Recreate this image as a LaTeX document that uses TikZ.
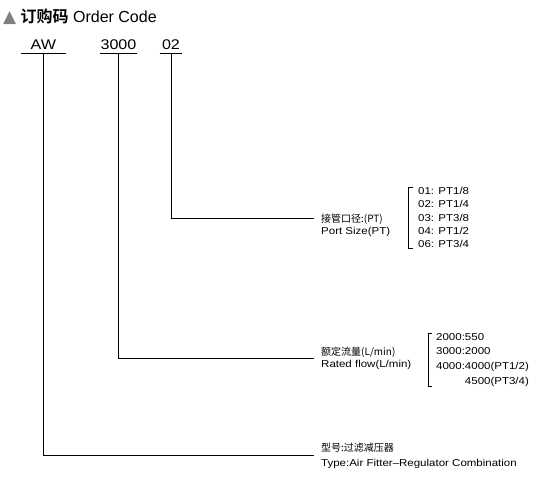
\documentclass[tikz,border=0pt]{standalone}
\usepackage{fontspec}
\setmainfont{Liberation Sans}
\newfontfamily\widefont[FakeStretch=1.15]{Liberation Sans}
\newfontfamily\cjk{Noto Sans CJK SC}[BoldFont={Noto Sans CJK SC Bold}]
\newfontfamily\symfont{DejaVu Sans}
\usetikzlibrary{calc,positioning}
\tikzset{
    order diagram/.style = {x=1pt, y=-1pt},
    code/.style     = {inner sep=0pt, anchor=base, text depth=4.5pt,
                       font=\widefont\fontsize{14}{16}\selectfont},
    codebar/.style  = {line width=0.8pt},
    leader/.style   = {line width=0.7pt},
    cnlabel/.style  = {inner sep=0pt, anchor=base west,
                       font=\cjk\fontsize{10}{12}\selectfont},
    enlabel/.style  = {inner sep=0pt, anchor=base west,
                       font=\widefont\fontsize{10}{12}\selectfont},
    options/.style  = {inner sep=0pt, anchor=north west, align=left},
    bracket/.style  = {line width=0.7pt}
}

\begin{document}
\begin{tikzpicture}[order diagram]
\useasboundingbox (0,0) rectangle (550,479);

% ================= Title =================
\node[inner sep=0pt, anchor=base west, text=gray,
      font=\symfont\fontsize{17}{18}\selectfont] (mark) at (3,23) {▲};
\node[inner sep=0pt, base right=4pt of mark,
      font=\fontsize{16}{18}\selectfont] (title) {{\cjk\bfseries 订购码} Order Code};

% ================= Code fields =================
\node[code, minimum width=44pt] (aw)    at (43.3,49)  {AW};
\node[code, minimum width=37pt] (p3000) at (118.5,49) {3000};
\node[code, minimum width=22pt] (p02)   at (171,49)   {02};
\draw[codebar] (aw.south west) -- (aw.south east);
\draw[codebar] (p3000.south west) -- (p3000.south east);
\draw[codebar] (p02.south west) -- (p02.south east);

% ================= Labels =================
\node[cnlabel] (portCN) at (321,222) {接管口径:(PT)};
\node[enlabel] (portEN) at (321,234) {Port Size(PT)};
\node[cnlabel] (flowCN) at (321,355) {额定流量(L/min)};
\node[enlabel] (flowEN) at (321,367) {Rated flow(L/min)};
\node[cnlabel] (typeCN) at (321,451) {型号:过滤减压器};
\node[enlabel] (typeEN) at (321,466) {Type:Air Fitter–Regulator Combination};

% ================= Leaders =================
\draw[leader] (p02.south) |- ([xshift=-7pt]portCN.west);
\draw[leader] (p3000.south)
    |- ($([xshift=-7pt]flowCN.west)!0.5!([xshift=-7pt]flowEN.west)$);
\draw[leader] (aw.south)
    |- ($([xshift=-7pt]typeCN.west)!0.5!([xshift=-7pt]typeEN.west)$);

% ================= Option lists =================
\node[options, font=\widefont\fontsize{10}{13.3}\selectfont] (portList) at (418,187)
    {01: PT1/8\\02: PT1/4\\03: PT3/8\\04: PT1/2\\06: PT3/4};
\node[options, font=\widefont\fontsize{10}{14.7}\selectfont] (flowList) at (436,333)
    {2000:550\\3000:2000\\4000:4000(PT1/2)\\\phantom{4000:}4500(PT3/4)};

\draw[bracket] ([xshift=-5pt]portList.north west) -- ++(-5,0)
    |- ([xshift=-5pt]portList.south west);
\draw[bracket] ([xshift=-4pt]flowList.north west) -- ++(-4,0)
    |- ([xshift=-4pt]flowList.south west);

\end{tikzpicture}
\end{document}
